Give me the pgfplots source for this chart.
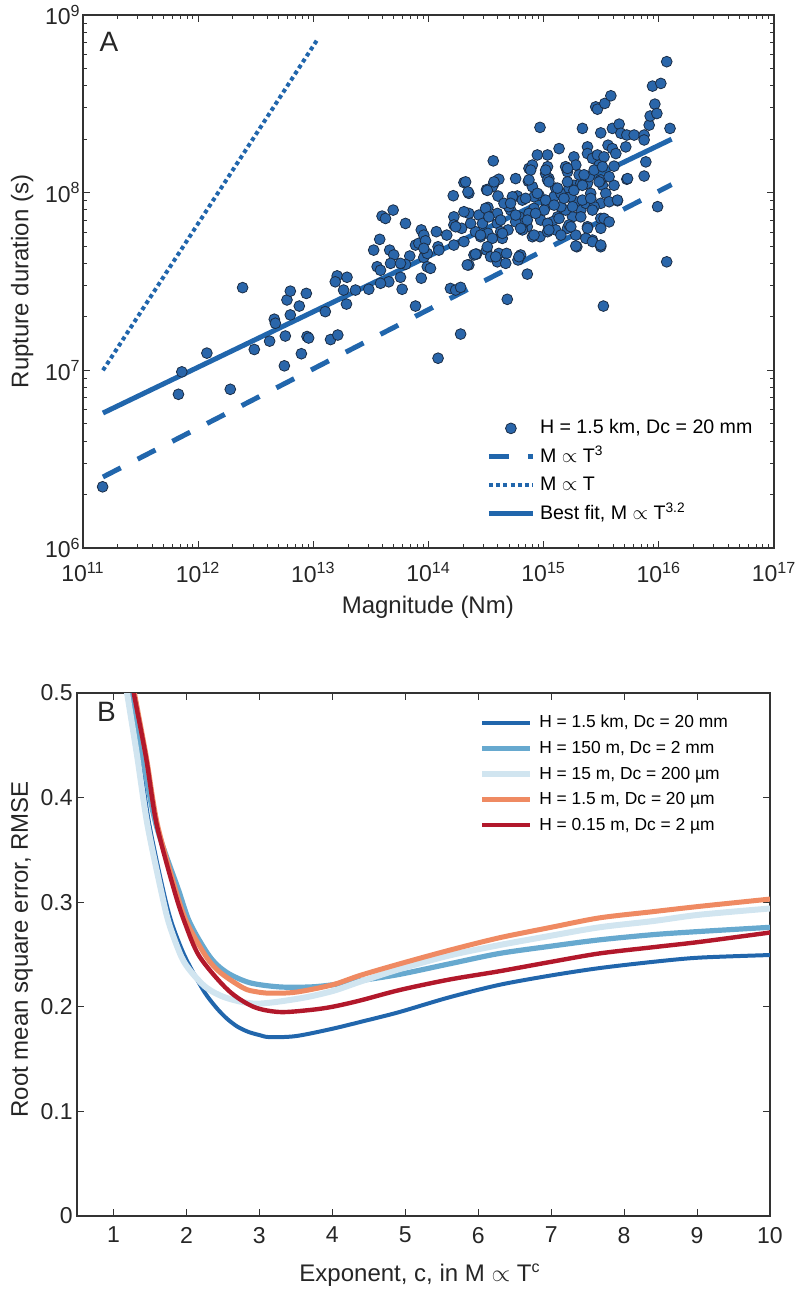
\documentclass[border=0pt]{standalone}
\usepackage{fontspec}
\setmainfont{Liberation Sans}
\usepackage{pgfplots}
\usepackage{pgfplotstable}
\pgfplotsset{compat=1.18}
\definecolor{dblue}{HTML}{2166AC}
\definecolor{lblue}{HTML}{67A9CF}
\definecolor{llblue}{HTML}{D1E5F0}
\definecolor{orng}{HTML}{EF8A62}
\definecolor{dred}{HTML}{B2182B}
\definecolor{mfill}{HTML}{2A66AA}
\definecolor{medge}{HTML}{1B2D45}

\pgfplotstableread{
M T
1.48e11 2.21e6
6.74e11 7.33e6
7.21e11 9.80e6
1.19e12 1.25e7
1.90e12 7.82e6
3.07e12 1.31e7
4.17e12 1.46e7
4.58e12 1.94e7
4.68e12 1.84e7
5.71e12 1.56e7
5.60e12 1.06e7
5.90e12 2.49e7
6.31e12 2.05e7
7.55e12 2.30e7
7.87e12 1.24e7
8.81e12 1.55e7
9.10e12 1.52e7
1.27e13 2.14e7
1.41e13 1.49e7
1.63e13 1.58e7
1.94e13 2.36e7
2.43e12 2.92e7
6.31e12 2.79e7
8.69e12 2.71e7
1.61e13 3.40e7
1.96e13 3.34e7
1.55e13 3.15e7
1.83e13 2.83e7
2.32e13 2.83e7
3.03e13 2.86e7
3.95e13 7.38e7
4.23e13 7.16e7
4.93e13 7.98e7
3.77e13 5.46e7
3.34e13 4.75e7
4.60e13 4.75e7
4.99e13 4.46e7
3.58e13 3.83e7
3.83e13 3.66e7
4.68e13 4.00e7
4.52e13 3.15e7
3.83e13 3.09e7
5.71e13 3.34e7
5.90e13 2.86e7
6.31e13 6.71e7
6.87e13 4.40e7
7.71e13 5.07e7
8.24e13 5.19e7
8.65e13 6.17e7
9.10e13 5.77e7
9.42e13 5.36e7
9.10e13 4.32e7
9.75e13 3.83e7
8.65e13 3.30e7
7.71e13 2.30e7
6.31e13 3.95e7
5.71e13 4.00e7
9.75e13 4.55e7
1.04e14 3.75e7
1.17e14 6.03e7
1.21e14 4.96e7
1.44e14 5.77e7
1.64e14 9.61e7
1.66e14 7.31e7
1.66e14 6.58e7
1.94e14 6.30e7
2.03e14 1.14e8
2.24e14 9.91e7
2.24e14 7.64e7
2.03e14 5.30e7
1.55e14 2.89e7
1.72e14 2.83e7
1.90e14 2.93e7
1.90e14 1.60e7
1.21e14 1.17e7
2.24e14 3.92e7
2.61e14 4.51e7
3.19e14 1.04e8
3.28e14 8.26e7
3.65e14 1.51e8
3.70e14 1.13e8
4.01e14 9.57e7
3.19e14 4.75e7
3.28e14 5.90e7
3.96e14 7.64e7
3.96e14 6.71e7
4.08e14 4.55e7
3.96e14 4.08e7
4.76e14 4.55e7
4.83e14 2.51e7
5.71e14 1.20e8
5.90e14 9.57e7
6.10e14 7.31e7
5.98e14 4.18e7
6.31e14 4.46e7
7.21e14 3.48e7
7.36e14 1.16e8
7.45e14 1.37e8
7.98e14 1.43e8
8.81e14 1.63e8
1.08e15 1.63e8
9.29e14 2.33e8
1.04e15 1.28e8
1.08e15 1.40e8
1.11e15 1.20e8
1.27e15 1.06e8
1.36e15 1.77e8
9.10e14 9.69e7
1.06e15 8.51e7
1.23e15 9.48e7
1.55e15 1.40e8
1.61e15 1.31e8
1.83e15 1.59e8
1.90e15 1.43e8
2.17e15 2.30e8
2.40e15 1.81e8
2.40e15 1.66e8
2.65e15 1.56e8
2.40e15 1.13e8
2.93e15 1.63e8
3.03e15 1.43e8
2.83e15 3.04e8
2.93e15 2.95e8
3.39e15 3.18e8
3.83e15 3.51e8
3.13e15 2.17e8
3.62e15 1.85e8
3.95e15 1.77e8
4.23e15 1.66e8
4.08e15 1.41e8
3.95e15 2.30e8
4.52e15 2.43e8
4.68e15 2.16e8
5.16e15 1.81e8
5.27e15 2.11e8
6.10e15 2.11e8
7.45e15 2.11e8
7.45e15 1.98e8
8.24e15 2.40e8
8.40e15 2.70e8
9.23e15 3.15e8
9.61e15 2.79e8
8.81e15 3.98e8
1.04e16 4.12e8
1.17e16 5.46e8
1.25e16 2.30e8
7.71e15 1.49e8
7.45e15 1.24e8
5.27e15 1.19e8
4.08e15 1.10e8
4.37e15 9.00e7
3.13e15 8.71e7
3.24e15 1.10e8
3.13e15 7.16e7
9.75e15 8.34e7
1.17e16 4.08e7
3.30e15 2.30e7
3.13e15 4.96e7
2.65e15 5.41e7
2.40e15 6.43e7
1.94e15 4.96e7
1.61e15 6.30e7
2.10e15 7.98e7
1.90e15 8.89e7
1.78e15 7.31e7
1.55e15 7.98e7
1.41e15 9.91e7
1.32e15 7.31e7
1.19e15 6.85e7
9.42e14 7.01e7
1.08e15 6.71e7
9.29e14 5.65e7
1.08e15 6.03e7
8.24e14 8.16e7
7.45e14 7.64e7
7.21e14 6.43e7
6.65e14 6.71e7
5.71e14 6.85e7
5.16e14 7.98e7
4.90e14 6.17e7
4.23e14 6.03e7
4.37e14 5.53e7
3.58e14 5.53e7
2.74e14 7.48e7
2.56e14 6.03e7
2.83e14 5.65e7
2.94e14 6.71e7
2.32e14 6.71e7
5.35e14 9.48e7
4.97e14 8.34e7
4.52e14 8.71e7
8.24e14 9.48e7
7.98e14 1.08e8
6.53e14 9.08e7
1.83e15 1.10e8
1.66e15 1.06e8
2.10e15 1.13e8
2.56e15 9.91e7
2.32e15 8.71e7
1.90e15 5.77e7
3.34e15 1.59e8
4.08e14 1.19e8
3.58e14 1.08e8
1.72e14 6.43e7
9.10e13 4.86e7
1.23e14 4.75e7
1.66e14 5.07e7
2.48e14 4.46e7
3.46e14 4.36e7
4.68e14 4.00e7
6.53e14 6.17e7
7.98e14 5.65e7
1.27e15 6.17e7
1.41e15 8.34e7
1.01e15 7.98e7
1.72e15 9.48e7
2.03e15 1.26e8
2.48e15 1.23e8
3.13e15 1.18e8
2.74e15 8.34e7
3.46e15 9.91e7
7.71e14 1.34e8
1.04e15 1.34e8
1.08e15 1.18e8
1.61e15 1.37e8
2.24e15 1.26e8
2.74e15 1.34e8
3.24e15 1.40e8
2.10e14 1.15e8
2.20e14 1.01e8
3.24e14 1.03e8
3.70e14 1.15e8
7.45e14 1.18e8
1.11e15 1.15e8
1.32e15 1.06e8
1.61e15 1.15e8
1.83e15 1.03e8
2.17e15 1.10e8
3.03e15 1.15e8
3.70e15 1.23e8
5.35e15 1.20e8
3.13e14 8.16e7
5.16e14 8.71e7
6.97e14 9.29e7
8.81e14 9.91e7
1.04e15 9.08e7
1.23e15 8.51e7
1.50e15 9.29e7
1.78e15 8.34e7
2.17e15 9.08e7
2.56e15 9.29e7
3.70e15 8.89e7
4.37e15 9.08e7
2.03e14 7.81e7
3.34e14 7.31e7
4.23e14 7.01e7
5.71e14 7.48e7
7.21e14 7.01e7
8.51e14 7.64e7
1.36e15 7.16e7
1.66e15 6.58e7
2.10e15 7.31e7
2.65e15 7.98e7
3.34e15 7.16e7
3.70e15 6.85e7
2.83e14 5.77e7
4.38e14 5.90e7
6.31e14 6.30e7
8.24e14 5.77e7
1.11e15 6.17e7
1.41e15 5.77e7
1.72e15 6.43e7
2.40e15 6.30e7
3.13e15 6.30e7
2.56e14 4.51e7
3.24e14 4.96e7
3.83e14 4.36e7
6.10e14 4.36e7
2.17e14 3.92e7
1.90e15 5.01e7
2.32e15 5.53e7
2.65e15 5.30e7
3.13e15 5.07e7
}\scatterdata

\pgfplotstableread{
c r
1.12 0.555
1.226 0.503
1.354 0.439
1.49 0.375
1.68 0.312
1.80 0.280
1.98 0.248
2.23 0.216
2.40 0.200
2.55 0.189
2.70 0.181
2.85 0.176
3.00 0.173
3.14 0.171
3.50 0.172
4.00 0.179
4.47 0.187
4.92 0.195
5.60 0.209
6.29 0.221
7.00 0.230
7.66 0.237
8.40 0.243
9.03 0.247
10.0 0.2495
}\curveA

\pgfplotstableread{
c r
1.12 0.550
1.23 0.503
1.40 0.439
1.58 0.375
1.89 0.312
2.05 0.280
2.32 0.248
2.55 0.233
2.87 0.223
3.28 0.219
3.70 0.219
4.00 0.221
4.38 0.225
4.92 0.231
5.60 0.241
6.29 0.251
7.00 0.258
7.66 0.264
8.40 0.269
9.03 0.272
10.0 0.276
}\curveB

\pgfplotstableread{
c r
1.08 0.550
1.18 0.503
1.326 0.439
1.463 0.375
1.65 0.312
1.76 0.280
1.93 0.248
2.07 0.233
2.28 0.218
2.55 0.2085
2.96 0.203
3.55 0.208
4.00 0.215
4.38 0.224
4.92 0.236
5.60 0.249
6.29 0.259
7.00 0.268
7.66 0.276
8.40 0.282
9.03 0.288
10.0 0.294
}\curveC

\pgfplotstableread{
c r
1.18 0.545
1.28 0.503
1.45 0.439
1.60 0.375
1.85 0.312
2.01 0.280
2.27 0.248
2.46 0.233
2.78 0.218
2.95 0.2145
3.15 0.213
3.50 0.214
4.00 0.221
4.38 0.230
4.92 0.241
5.60 0.254
6.29 0.266
7.00 0.276
7.66 0.285
8.40 0.291
9.03 0.296
10.0 0.303
}\curveD

\pgfplotstableread{
c r
1.17 0.545
1.27 0.503
1.445 0.439
1.59 0.375
1.83 0.312
1.98 0.280
2.18 0.248
2.57 0.216
2.92 0.200
3.28 0.195
3.70 0.197
4.00 0.200
4.38 0.206
4.92 0.216
5.60 0.226
6.29 0.234
7.00 0.243
7.66 0.251
8.40 0.257
9.03 0.262
10.0 0.271
}\curveE

\pgfplotsset{
  panel/.style={
    scale only axis,
    tick align=inside,
    axis line style={draw=black!80, line width=0.6pt},
    every tick/.style={black!80, line width=0.5pt},
    major tick length=3.5pt, minor tick length=2pt,
    ticklabel style={font=\fontsize{11.5}{13}\selectfont, text=black!85},
    label style={font=\fontsize{12}{14}\selectfont, text=black!85},
    /pgf/number format/assume math mode=true,
  },
  legA/.style={legend image code/.code={\draw[##1] (0pt,0pt) -- (22pt,0pt); \path (24.3pt,0pt);}},
  legM/.style={legend image code/.code={\draw[##1, mark repeat=2, mark phase=2] plot coordinates {(0pt,0pt) (11pt,0pt) (22pt,0pt)}; \path (24.3pt,0pt);}},
  legB/.style={legend image code/.code={\draw[##1] (0pt,0pt) -- (24pt,0pt); \path (27pt,0pt);}},
}

\begin{document}
\begin{tikzpicture}
\useasboundingbox (-41.5pt,-374.5pt) rectangle (357.5pt,274pt);

% ---------- Panel A ----------
\begin{axis}[panel,
  width=345.5pt, height=266.5pt,
  xmode=log, ymode=log, log basis x=10, log basis y=10,
  xmin=1e11, xmax=1e17, ymin=1e6, ymax=1e9,
  xtick={1e11,1e12,1e13,1e14,1e15,1e16,1e17},
  xticklabels={10\textsuperscript{11},10\textsuperscript{12},10\textsuperscript{13},10\textsuperscript{14},10\textsuperscript{15},10\textsuperscript{16},10\textsuperscript{17}},
  minor xtick={2e11,3e11,4e11,5e11,6e11,7e11,8e11,9e11,
    2e12,3e12,4e12,5e12,6e12,7e12,8e12,9e12,
    2e13,3e13,4e13,5e13,6e13,7e13,8e13,9e13,
    2e14,3e14,4e14,5e14,6e14,7e14,8e14,9e14,
    2e15,3e15,4e15,5e15,6e15,7e15,8e15,9e15,
    2e16,3e16,4e16,5e16,6e16,7e16,8e16,9e16},
  ytick={1e6,1e7,1e8,1e9},
  yticklabels={10\textsuperscript{6},10\textsuperscript{7},10\textsuperscript{8},10\textsuperscript{9}},
  minor ytick={2e6,3e6,4e6,5e6,6e6,7e6,8e6,9e6,
    2e7,3e7,4e7,5e7,6e7,7e7,8e7,9e7,
    2e8,3e8,4e8,5e8,6e8,7e8,8e8,9e8},
  xticklabel style={yshift=-3.5pt},
  yticklabel style={inner xsep=1pt},
  xlabel={Magnitude (Nm)},
  ylabel={Rupture duration (s)},
  xlabel style={at={(axis description cs:0.499,-0.111)}, anchor=center},
  ylabel style={at={(axis description cs:-0.088,0.5)}, anchor=center},
  legend style={draw=none, fill=none, at={(0.5832,0.243)}, anchor=north west,
    inner sep=0pt, row sep=4.75pt,
    font=\fontsize{9.8}{11}\selectfont,
    nodes={inner sep=0pt, text height=7.5pt, text depth=2pt, anchor=west}},
  legend cell align=left,
]
\addplot[only marks, mark=*, mark size=2.7pt,
  mark options={fill=mfill, draw=medge, line width=0.4pt}, legM]
  table[x=M, y=T] {\scatterdata};
\addlegendentry{H = 1.5 km, Dc = 20 mm}

\addplot[dblue, line width=2.5pt, dash pattern=on 10pt off 9.5pt, legA]
  coordinates {(1.49e11,2.51e6) (1.29e16,1.11e8)};
\addlegendentry{M $\propto$ T\textsuperscript{3}}

\addplot[dblue, line width=2pt, dash pattern=on 2pt off 1.6pt, legA]
  coordinates {(1.49e11,1.0e7) (1.1e13,7.38e8)};
\addlegendentry{M $\propto$ T}

\addplot[dblue, line width=2.5pt, legA]
  coordinates {(1.49e11,5.75e6) (1.29e16,2.0e8)};
\addlegendentry{Best fit, M $\propto$ T\textsuperscript{3.2}}

\node[font=\fontsize{14}{16}\selectfont, text=black!85] at (rel axis cs:0.0376,0.949) {A};
\end{axis}

% ---------- Panel B ----------
\begin{axis}[panel,
  at={(-3pt,-334pt)}, anchor=south west,
  width=346.5pt, height=261.5pt,
  xmin=0.5, xmax=10, ymin=0, ymax=0.5,
  xtick={1,2,3,4,5,6,7,8,9,10},
  ytick={0,0.1,0.2,0.3,0.4,0.5},
  yticklabel style={/pgf/number format/fixed, /pgf/number format/precision=1, inner xsep=2pt},
  xticklabel style={yshift=-2pt},
  xlabel={Exponent, c, in M $\propto$ T\textsuperscript{c}},
  ylabel={Root mean square error, RMSE},
  xlabel style={at={(axis description cs:0.495,-0.113)}, anchor=center},
  ylabel style={at={(axis description cs:-0.0794,0.51)}, anchor=center},
  legend style={draw=none, fill=none, at={(0.580,0.961)}, anchor=north west,
    inner sep=0pt, row sep=3.8pt,
    font=\fontsize{8.7}{10}\selectfont,
    nodes={inner sep=0pt, text height=7pt, text depth=2pt, anchor=west}},
  legend cell align=left,
  legB,
]
\addplot[dblue, line width=2pt, smooth] table[x=c, y=r] {\curveA};
\addlegendentry{H = 1.5 km, Dc = 20 mm}
\addplot[lblue, line width=2.6pt, smooth] table[x=c, y=r] {\curveB};
\addlegendentry{H = 150 m, Dc = 2 mm}
\addplot[llblue, line width=3pt, smooth] table[x=c, y=r] {\curveC};
\addlegendentry{H = 15 m, Dc = 200 µm}
\addplot[orng, line width=2.5pt, smooth] table[x=c, y=r] {\curveD};
\addlegendentry{H = 1.5 m, Dc = 20 µm}
\addplot[dred, line width=2.2pt, smooth] table[x=c, y=r] {\curveE};
\addlegendentry{H = 0.15 m, Dc = 2 µm}

\node[font=\fontsize{14}{16}\selectfont, text=black!85] at (rel axis cs:0.0426,0.9637) {B};
\end{axis}
\end{tikzpicture}
\end{document}
